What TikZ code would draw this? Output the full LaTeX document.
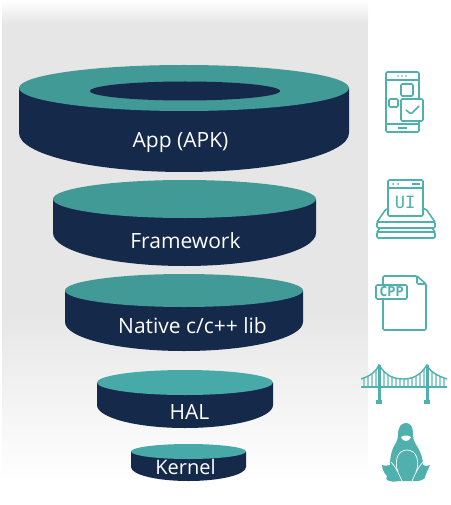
\documentclass[tikz,border=0pt]{standalone}
\usepackage{xcolor}
\usepackage{fontspec}
\setmainfont{Open Sans}
\definecolor{paneGray}{HTML}{E6E6E6}
\definecolor{navyBody}{HTML}{15294B}
\definecolor{tealTop}{HTML}{429A96}
\definecolor{tealLow}{HTML}{47AAA8}
\definecolor{iconTeal}{HTML}{4FB0AD}
\definecolor{hangTeal}{HTML}{93CFCC}
\newcommand{\disclayer}[8]{%
\fill[navyBody] (#1-#2,#4) -- (#1-#2,#6) arc[start angle=180, end angle=0, x radius=#2, y radius=#7-#6] -- (#1+#2,#4) -- cycle;
\fill[#8] (#1,#4) ellipse[x radius=#2, y radius=#4-#3];
}
\tikzset{
  layertext/.style={text=white, anchor=base, font=\fontsize{#1}{#1}\selectfont, inner sep=0pt},
  iconline/.style={draw=iconTeal, line width=1.6pt, rounded corners=1.2pt, line join=round},
  icontext/.style={text=iconTeal, inner sep=0pt}
}
\begin{document}
\begin{tikzpicture}[x=1pt, y=-1pt]
\useasboundingbox (0,0) rectangle (450,505);
\shade[top color=white, bottom color=paneGray] (2,0) rectangle (368,24);
\fill[paneGray] (2,24) rectangle (368,310);
\shade[top color=paneGray, bottom color=white] (2,310) rectangle (368,480);

\disclayer{184}{165}{65}{88}{111}{133}{172}{tealTop}
\fill[navyBody] (185,91) ellipse[x radius=95, y radius=9.5];
\disclayer{184.5}{131.5}{180}{199}{218}{233}{266}{tealTop}
\disclayer{184}{119}{274}{290.5}{307}{322}{351}{tealTop}
\disclayer{185}{88}{370}{382.5}{395}{405}{428}{tealLow}
\disclayer{188.5}{57.5}{444}{451.5}{459}{467}{481}{tealLow}

\node (app) [layertext=21] at (180.5,148) {App (APK)};
\node (framework) [layertext=21] at (185.5,248) {Framework};
\node (native) [layertext=21] at (192.5,333) {Native c/c++ lib};
\node (hal) [layertext=21] at (189.5,419) {HAL};
\node (kernel) [layertext=20] at (185.5,474) {Kernel};

\draw[iconline] (386,72) rectangle (419,132);
\draw[iconline] (386,80) -- (419,80);
\draw[iconline] (386,124) -- (419,124);
\foreach \i in {398,402,406} \fill[iconTeal] (\i,76) circle[radius=0.9];
\draw[iconline] (398,128) -- (407,128);
\draw[iconline] (401,84) rectangle (413,96);
\draw[iconline] (389,99) rectangle (398,107);
\draw[iconline, fill=white] (401,99) rectangle (423,121);
\draw[iconline] (406,110) -- (411,114) -- (419,106);

\draw[iconline] (377,222) rectangle (435,228);
\draw[iconline] (377,232) rectangle (435,238);
\draw[iconline] (380,228) -- (377,232);
\draw[iconline] (432,228) -- (435,232);
\draw[iconline] (377,222) -- (386,209) -- (426,209) -- (435,222);
\draw[iconline, fill=white] (388,180) rectangle (423,216);
\draw[iconline] (388,188) -- (423,188);
\foreach \i in {393,398} \fill[iconTeal] (\i,184) circle[radius=1];
\draw[iconline] (412,184) -- (420,184);
\node (ui) [icontext, font=\fontsize{17}{17}\selectfont\fontspec{DejaVu Sans Mono}] at (405,202) {UI};

\draw[iconline] (383,290) -- (383,330) -- (426,330) -- (426,284) -- (417,276) -- (383,276) -- (383,285);
\draw[iconline] (417,276) -- (417,284) -- (426,284);
\draw[iconline, fill=white] (376,285) rectangle (407,299);
\node (cpp) [icontext, font=\fontsize{13.5}{13.5}\selectfont\fontspec{DejaVu Sans Mono Bold}] at (391.5,292) {CPP};

\begin{scope}
\clip (361,379) .. controls (370,376) and (376,372) .. (379,365) .. controls (386,376) and (394,379) .. (403,379) .. controls (412,379) and (420,376) .. (427,365) .. controls (430,372) and (438,376) .. (447,379) -- (447,387) -- (361,387) -- cycle;
\foreach \i in {364,368,...,444} \draw[hangTeal, line width=1.5pt] (\i,360) -- (\i,387);
\end{scope}
\draw[iconTeal, line width=1.4pt] (361,379) .. controls (370,376) and (376,372) .. (379,365) .. controls (386,376) and (394,379) .. (403,379) .. controls (412,379) and (420,376) .. (427,365) .. controls (430,372) and (438,376) .. (447,379);
\draw[iconTeal, line width=2.4pt] (361,387) -- (447,387);
\draw[iconTeal, line width=3pt] (379,365) -- (379,402);
\draw[iconTeal, line width=3pt] (427,365) -- (427,402);
\fill[iconTeal] (376,400) rectangle (382,404);
\fill[iconTeal] (424,400) rectangle (430,404);

\fill[iconTeal] (406,423) .. controls (401,423) and (398,427) .. (398,435) .. controls (398,441) and (395,444) .. (393,448) .. controls (391,453) and (390,459) .. (390,465) .. controls (387,466) and (384,466) .. (382,465) .. controls (382,470) and (385,474) .. (387,476) .. controls (386,478) and (386,479) .. (387,480) .. controls (392,483) and (397,481) .. (401,481) -- (412,481) .. controls (416,481) and (420,482) .. (425,478) .. controls (425,475) and (428,470) .. (430,465) .. controls (428,466) and (425,467) .. (423,465) .. controls (423,459) and (421,453) .. (418,448) .. controls (416,444) and (413,441) .. (413,435) .. controls (413,427) and (411,423) .. (406,423) -- cycle;
\fill[white] (401,437) .. controls (404,435) and (408,435) .. (411,437) .. controls (410,440) and (408,441) .. (406,441) .. controls (404,441) and (402,440) .. (401,437) -- cycle;
\draw[white, line width=0.7pt] (398,472) .. controls (394,462) and (397,450) .. (407,450) .. controls (417,450) and (420,462) .. (416,472);
\draw[white, line width=0.7pt] (391,462) .. controls (395,466) and (398,472) .. (402,481);
\draw[white, line width=0.7pt] (423,462) .. controls (419,466) and (416,472) .. (412,481);
\end{tikzpicture}
\end{document}
